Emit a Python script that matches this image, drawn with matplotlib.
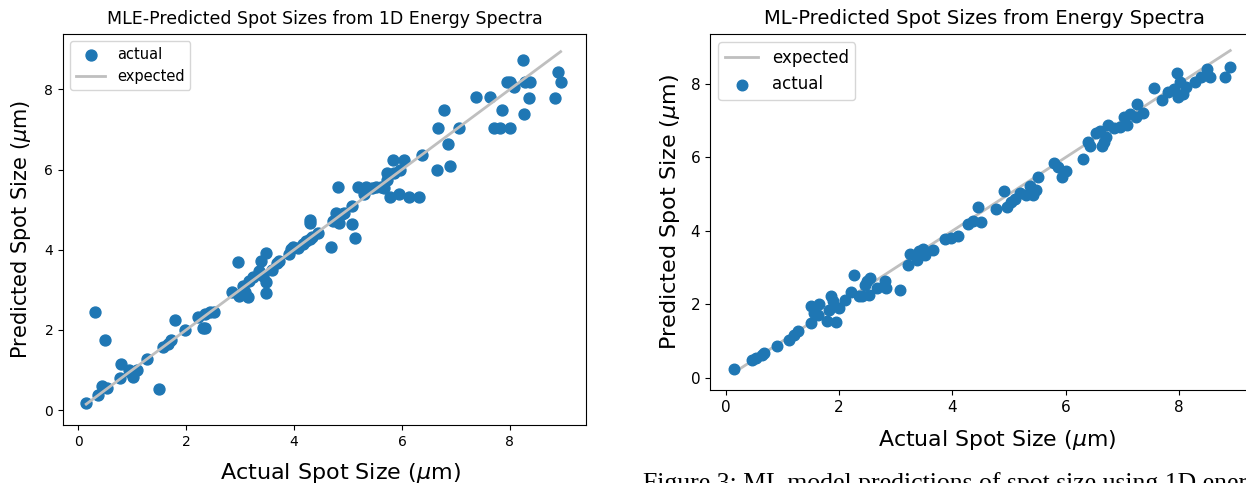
import matplotlib
matplotlib.use("Agg")
import matplotlib.pyplot as plt
import numpy as np

# ---- Left panel: MLE predictions ----
mle_actual = [0.15, 0.31, 0.37, 0.45, 0.50, 0.54, 0.78, 0.79, 0.94, 0.97, 1.01, 1.10, 1.27, 1.49,
              1.57, 1.67, 1.72, 1.80, 1.98, 2.22, 2.31, 2.36, 2.36, 2.44, 2.51, 2.86, 2.97, 2.99,
              3.06, 3.10, 3.15, 3.17, 3.24, 3.35, 3.39, 3.43, 3.48, 3.48, 3.48, 3.59, 3.68, 3.72,
              3.90, 3.95, 3.99, 4.08, 4.16, 4.23, 4.29, 4.30, 4.30, 4.34, 4.44, 4.69, 4.73, 4.78,
              4.82, 4.83, 4.88, 4.93, 5.07, 5.07, 5.13, 5.18, 5.29, 5.33, 5.44, 5.51, 5.62, 5.66,
              5.73, 5.73, 5.77, 5.84, 5.86, 5.95, 5.97, 6.04, 6.13, 6.32, 6.37, 6.65, 6.67, 6.78,
              6.85, 6.89, 7.05, 7.38, 7.64, 7.71, 7.82, 7.86, 7.95, 8.00, 8.00, 8.07, 8.24, 8.26,
              8.28, 8.38, 8.35, 8.84, 8.89, 8.94]
mle_pred = [0.17, 2.46, 0.37, 0.60, 1.75, 0.55, 0.79, 1.16, 0.99, 0.95, 0.83, 0.99, 1.28, 0.52,
            1.57, 1.65, 1.74, 2.25, 2.01, 2.32, 2.04, 2.04, 2.40, 2.44, 2.46, 2.94, 3.70, 2.85,
            3.10, 2.95, 2.81, 3.23, 3.31, 3.47, 3.72, 3.35, 3.93, 3.20, 2.91, 3.50, 3.68, 3.72,
            3.89, 4.01, 4.08, 4.05, 4.14, 4.22, 4.74, 4.67, 4.28, 4.33, 4.42, 4.07, 4.71, 4.92,
            5.57, 4.67, 4.90, 4.92, 5.09, 4.63, 4.29, 5.57, 5.39, 5.57, 5.54, 5.57, 5.57, 5.54,
            5.75, 5.91, 5.31, 6.24, 5.91, 5.40, 5.98, 6.24, 5.31, 5.31, 6.36, 5.98, 7.04, 7.49,
            6.63, 6.08, 7.04, 7.82, 7.82, 7.04, 7.04, 7.49, 8.19, 7.04, 8.19, 8.05, 8.73, 7.38,
            8.19, 8.19, 7.79, 7.79, 8.44, 8.19]

# ---- Right panel: ML predictions ----
ml_actual = [0.15, 0.46, 0.53, 0.63, 0.67, 0.90, 1.11, 1.20, 1.28, 1.50, 1.51, 1.55, 1.64, 1.62,
             1.79, 1.83, 1.86, 1.90, 1.95, 2.00, 2.11, 2.21, 2.27, 2.36, 2.41, 2.46, 2.50, 2.53,
             2.54, 2.67, 2.81, 2.83, 3.08, 3.21, 3.25, 3.37, 3.41, 3.48, 3.52, 3.66, 3.87, 3.97,
             4.10, 4.27, 4.36, 4.46, 4.51, 4.77, 4.92, 4.96, 5.03, 5.10, 5.20, 5.31, 5.38, 5.43,
             5.47, 5.52, 5.80, 5.87, 5.94, 6.01, 6.31, 6.40, 6.43, 6.54, 6.61, 6.64, 6.68, 6.71,
             6.75, 6.85, 6.96, 7.03, 7.08, 7.14, 7.24, 7.26, 7.36, 7.56, 7.70, 7.81, 7.91, 7.97,
             7.98, 8.02, 8.08, 8.12, 8.29, 8.40, 8.50, 8.56, 8.81, 8.91]
ml_pred = [0.25, 0.50, 0.54, 0.63, 0.68, 0.86, 1.04, 1.18, 1.27, 1.95, 1.49, 1.77, 2.02, 1.72,
           1.54, 1.86, 2.22, 2.08, 1.51, 1.90, 2.13, 2.33, 2.81, 2.22, 2.22, 2.54, 2.63, 2.26,
           2.72, 2.45, 2.63, 2.45, 2.38, 3.08, 3.38, 3.22, 3.44, 3.51, 3.35, 3.49, 3.78, 3.80,
           3.85, 4.18, 4.26, 4.66, 4.24, 4.59, 5.10, 4.66, 4.80, 4.86, 5.03, 4.98, 5.21, 4.98,
           5.12, 5.48, 5.84, 5.75, 5.48, 5.62, 5.95, 6.43, 6.31, 6.66, 6.73, 6.30, 6.43, 6.57,
           6.88, 6.79, 6.84, 7.11, 6.88, 7.17, 7.11, 7.45, 7.22, 7.88, 7.55, 7.79, 7.85, 8.29,
           7.65, 8.06, 7.74, 7.91, 8.06, 8.20, 8.41, 8.20, 8.20, 8.47]

left_title = "MLE-Predicted Spot Sizes from 1D Energy Spectra"
right_title = "ML-Predicted Spot Sizes from Energy Spectra"
xlabel = r"Actual Spot Size ($\mu$m)"
ylabel = r"Predicted Spot Size ($\mu$m)"
caption = "Figure 3: ML model predictions of spot size using 1D energy spectra"

W, H = 1246, 483
fig = plt.figure(figsize=(W / 100, H / 100), dpi=100)

def box(l, t, r, b):
    return [l / W, (H - b) / H, (r - l) / W, (b - t) / H]

dot_color = "#1f77b4"
line_color = "#bfbfbf"

# Left axes
ax1 = fig.add_axes(box(63, 34, 586, 425))
ax1.scatter(mle_actual, mle_pred, s=62, color=dot_color, label="actual", zorder=2)
lo, hi = min(mle_actual), max(mle_actual)
ax1.plot([lo, hi], [lo, hi], color=line_color, lw=2, label="expected", zorder=3)
ax1.set_xlim(-0.28, 9.41)
ax1.set_ylim(-0.37, 9.38)
ax1.set_xticks([0, 2, 4, 6, 8])
ax1.set_yticks([0, 2, 4, 6, 8])
ax1.tick_params(labelsize=10)
ax1.set_title(left_title, fontsize=12.5, pad=7)
ax1.set_xlabel(xlabel, fontsize=16)
ax1.xaxis.set_label_coords((340 - 63) / 523, -0.092)
ax1.set_ylabel(ylabel, fontsize=15, labelpad=8)
ax1.legend(loc="upper left", fontsize=10.5)

# Right axes (cut off by the figure edge)
ax2 = fig.add_axes(box(710, 34, 1258, 390))
ax2.plot([min(ml_actual), max(ml_actual)], [min(ml_actual), max(ml_actual)],
         color=line_color, lw=2, label="expected", zorder=1)
ax2.scatter(ml_actual, ml_pred, s=58, color=dot_color, label="actual", zorder=2)
ax2.set_xlim(-0.28, 9.4)
ax2.set_ylim(-0.33, 9.36)
ax2.set_xticks([0, 2, 4, 6, 8])
ax2.set_yticks([0, 2, 4, 6, 8])
ax2.tick_params(labelsize=11)
ax2.set_title(right_title, fontsize=14, pad=7)
ax2.set_xlabel(xlabel, fontsize=15.8)
ax2.xaxis.set_label_coords((997 - 710) / 548, -0.107)
ax2.set_ylabel(ylabel, fontsize=16, labelpad=6)
ax2.legend(loc="upper left", fontsize=12)

# Caption (partially cut off at the bottom-right edge)
fig.text(643 / W, -7 / H, caption, fontsize=18.5, family="Liberation Serif",
         ha="left", va="baseline")

fig.savefig("out.png", dpi=100)
